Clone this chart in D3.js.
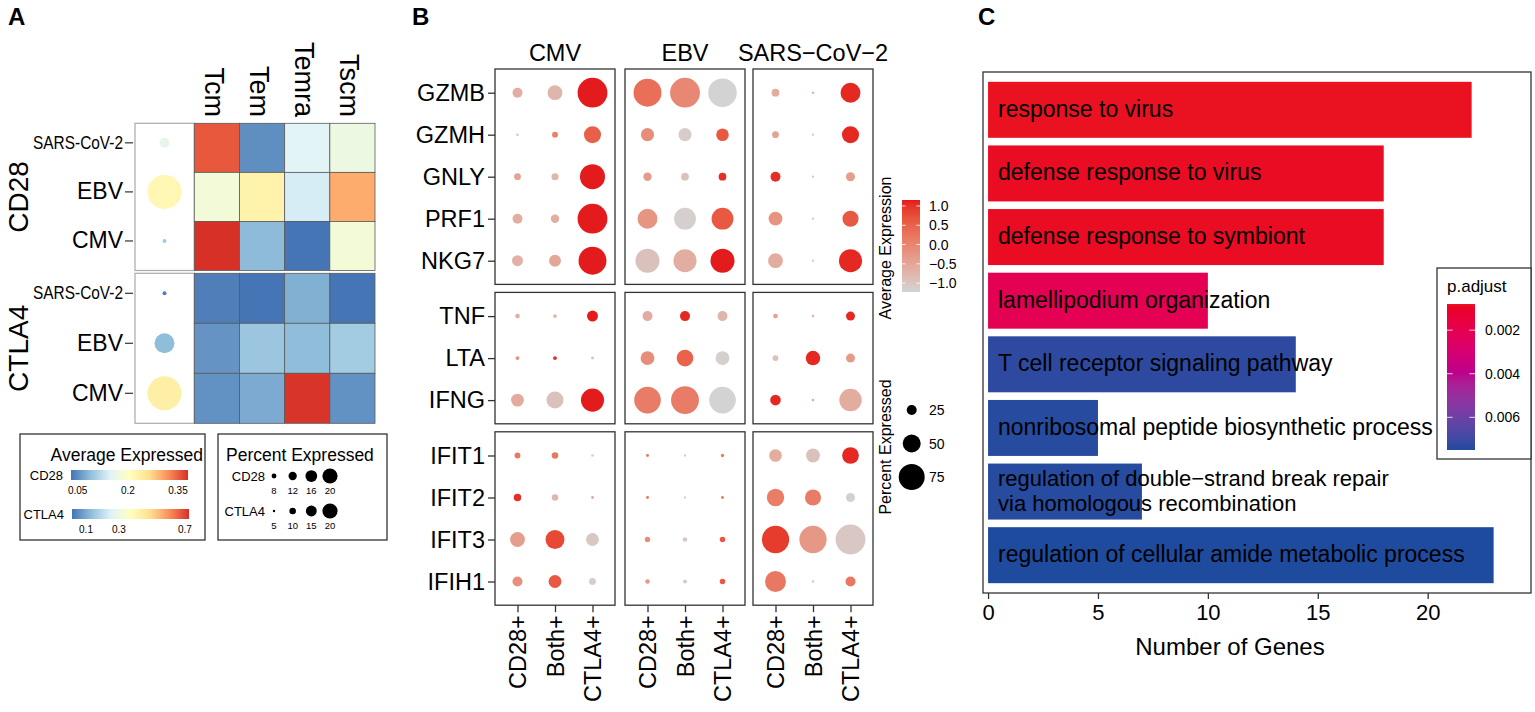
<!DOCTYPE html>
<html><head><meta charset="utf-8">
<script src="https://cdn.jsdelivr.net/npm/d3@7"></script>
<style>body{margin:0;background:#fff} svg{display:block} text{font-family:"Liberation Sans",Arial,Helvetica,sans-serif;fill:#000}</style>
</head><body><svg id="fig" width="1535" height="712"></svg>
<script>
// ---------------- DATA ----------------
// Panel A
const heatCols = ["Tcm","Tem","Temra","Tscm"];
const heatRows = ["SARS-CoV-2","EBV","CMV"];
const cd28Heat = [[0.355,0.05,0.15,0.17],[0.18,0.23,0.14,0.30],[0.38,0.085,0.03,0.18]];
const cd28DotPct = [8.5,20.5,5.5];
const cd28DotAvg = [0.16,0.22,0.10];
const ctla4Heat = [[0.03,0.015,0.11,0.015],[0.065,0.15,0.13,0.16],[0.06,0.10,0.72,0.06]];
const ctla4DotPct = [5.5,13.5,20.5];
const ctla4DotAvg = [0.03,0.13,0.43];
const cd28LegendTicks = [0.05,0.2,0.35];
const ctla4LegendTicks = [0.1,0.3,0.7];
const cd28PctLegend = [8,12,16,20];
const ctla4PctLegend = [5,10,15,20];

// Panel B
const moduleGenes = [["GZMB","GZMH","GNLY","PRF1","NKG7"],["TNF","LTA","IFNG"],["IFIT1","IFIT2","IFIT3","IFIH1"]];
const genes = moduleGenes.flat();
const cellGroups = ["CD28+","Both+","CTLA4+"];
const viruses = ["CMV","EBV","SARS\u2212CoV\u22122"];
const avgCMV = [[-0.63,-0.75,1.15],[-0.99,0.11,0.53],[-0.47,-0.75,1.15],[-0.63,-0.63,1.15],[-0.68,-0.51,1.15],
  [-0.63,-0.80,1.15],[-0.16,1.04,-1.04],[-0.56,-0.94,1.15],
  [0.20,0.20,-1.13],[1.04,-0.75,-0.59],[-0.35,0.80,-1.04],[-0.16,0.63,-1.11]];
const pctCMV = [[25,40,87],[2,12,47],[15,16,72],[25,20,87],[28,31,81],
  [8,6,28],[6,6,3],[34,47,66],
  [12,14,2],[17,14,3],[40,53,34],[25,34,15]];
const avgEBV = [[0.32,-0.04,-1.23],[-0.13,-1.13,0.63],[-0.32,-0.94,1.04],[-0.23,-1.16,0.63],[-0.94,-0.63,1.15],
  [-0.61,1.08,-0.75],[-0.13,0.49,-1.16],[0.15,0.15,-1.23],
  [0.20,-1.13,0.20],[0.20,-1.13,0.20],[-0.11,-1.04,0.63],[-0.28,-1.06,0.63]];
const pctEBV = [[81,87,83],[35,35,33],[20,18,18],[56,62,62],[69,66,69],
  [25,25,25],[37,46,37],[77,81,77],
  [3,1,4],[3,1,3],[11,8,11],[8,6,11]];
const avgSARS = [[-0.59,-0.75,1.08],[-0.47,-1.0,1.08],[1.04,-1.0,-0.35],[-0.2,-1.0,0.63],[-0.59,-1.0,1.08],
  [-0.44,-0.75,1.08],[-0.94,1.08,-0.32],[1.08,-0.63,-0.59],
  [-0.59,-0.94,1.08],[0.13,0.15,-1.18],[0.92,-0.28,-1.04],[0.20,-0.94,0.20]];
const pctSARS = [[18,2,56],[15,1,47],[25,1,22],[37,1,44],[40,1,66],
  [9,2,22],[12,39,22],[27,2,64],
  [33,37,46],[48,44,22],[79,79,87],[59,1,25]];
const avgLegendTicks = [1.0,0.5,0.0,-0.5,-1.0];
const pctLegendTicks = [25,50,75];

// Panel C
const goTerms = ["response to virus","defense response to virus","defense response to symbiont","lamellipodium organization",
  "T cell receptor signaling pathway","nonribosomal peptide biosynthetic process",
  "regulation of double\u2212strand break repair\nvia homologous recombination","regulation of cellular amide metabolic process"];
const geneCounts = [22,18,18,10,14,5,7,23];
const pAdjust = [0.00085,0.0009,0.0009,0.0021,0.0073,0.0074,0.0074,0.0075];
const countTicks = [0,5,10,15,20];
const pLegendTicks = [0.002,0.004,0.006];

// ---------------- DRAW ----------------
const svg = d3.select("#fig");
const defs = svg.append("defs");
function gradient(id, colorFn, vertical){
  const lg = defs.append("linearGradient").attr("id",id)
    .attr("x1",0).attr("y1",0).attr("x2",vertical?0:1).attr("y2",vertical?1:0);
  d3.range(0,1.0001,0.025).forEach(t=>lg.append("stop").attr("offset",t).attr("stop-color",colorFn(t)));
}

// panel letters
[["A",8],["B",412],["C",978]].forEach(([l,x])=>svg.append("text").attr("x",x).attr("y",25)
  .attr("font-size",24).attr("font-weight","bold").text(l));

// ===== Panel A =====
const rdylbu7 = ["#4575b4","#91bfdb","#e0f3f8","#ffffbf","#fee090","#fc8d59","#d73027"];
function heatScale(dom){
  return d3.scaleLinear().domain(d3.range(7).map(i=>dom[0]+i*(dom[1]-dom[0])/6)).range(rdylbu7).clamp(true);
}
const aX = d3.scaleBand().domain(heatCols).range([194.3,375]);
const aR = d3.scaleLinear().domain([5,21]).range([1.5,17.5]);
const aBlocks = [
  {gene:"CD28", heat:cd28Heat, pct:cd28DotPct, avg:cd28DotAvg, y0:123.3, y1:270.5, dom:[0.03,0.38]},
  {gene:"CTLA4", heat:ctla4Heat, pct:ctla4DotPct, avg:ctla4DotAvg, y0:273.3, y1:423.3, dom:[0.015,0.725]}
];
aBlocks.forEach(b=>{
  const y = d3.scaleBand().domain(heatRows).range([b.y0,b.y1]);
  const yl = d3.scaleBand().domain(heatRows).range([b.y0-5,b.y1-5]);
  const col = heatScale(b.dom);
  const g = svg.append("g");
  g.append("rect").attr("x",135).attr("y",b.y0).attr("width",194.3-135).attr("height",b.y1-b.y0)
    .attr("fill","#fff").attr("stroke","#aaa").attr("stroke-width",1.2);
  heatRows.forEach((r,i)=>heatCols.forEach((c,j)=>{
    g.append("rect").attr("x",aX(c)).attr("y",y(r)).attr("width",aX.bandwidth()).attr("height",y.bandwidth())
      .attr("fill",col(b.heat[i][j])).attr("stroke","#5a5a5a").attr("stroke-width",0.8);
  }));
  heatRows.forEach((r,i)=>g.append("circle").attr("cx",164.5).attr("cy",yl(r)+yl.bandwidth()/2)
    .attr("r",aR(b.pct[i])).attr("fill",col(b.avg[i])));
  const ax = g.append("g").attr("transform","translate(133,0)")
    .call(d3.axisLeft(yl).tickSize(8).tickPadding(2));
  ax.select(".domain").remove();
  ax.selectAll("line").attr("stroke","#333").attr("stroke-width",1.2);
  ax.selectAll("text").attr("font-size",d=>d==="SARS-CoV-2"?19:23).attr("fill","#000")
    .attr("font-family","Liberation Sans, Arial, sans-serif")
    .attr("textLength",d=>d==="SARS-CoV-2"?90:null).attr("lengthAdjust","spacingAndGlyphs");
  svg.append("text").attr("transform",`translate(28,${(b.y0+b.y1)/2}) rotate(-90)`)
    .attr("text-anchor","middle").attr("font-size",28).text(b.gene);
});
heatCols.forEach(c=>svg.append("text").attr("transform",`translate(${aX(c)+aX.bandwidth()/2-3},117) rotate(90)`)
  .attr("text-anchor","end").attr("dominant-baseline","central").attr("font-size",27).text(c));

// A legends
svg.append("rect").attr("x",20).attr("y",434).attr("width",185).attr("height",106).attr("fill","none").attr("stroke","#333").attr("stroke-width",1.3);
svg.append("text").attr("x",203).attr("y",461).attr("text-anchor","end").attr("font-size",17.5).text("Average Expressed");
[{gene:"CD28",dom:[0.03,0.38],rng:[71,188],y:470,ticks:cd28LegendTicks,lx:63},
 {gene:"CTLA4",dom:[0.015,0.725],rng:[72,189],y:509,ticks:ctla4LegendTicks,lx:64}].forEach((L,k)=>{
  const col = heatScale(L.dom);
  gradient("agr"+k, t=>col(L.dom[0]+t*(L.dom[1]-L.dom[0])), false);
  const s = d3.scaleLinear().domain(L.dom).range(L.rng);
  svg.append("rect").attr("x",L.rng[0]).attr("y",L.y).attr("width",L.rng[1]-L.rng[0]).attr("height",10).attr("fill",`url(#agr${k})`);
  svg.append("text").attr("x",L.lx).attr("y",L.y+10).attr("text-anchor","end").attr("font-size",13).text(L.gene);
  L.ticks.forEach(t=>svg.append("text").attr("x",s(t)).attr("y",L.y+24).attr("text-anchor","middle").attr("font-size",10).text(t));
});
svg.append("rect").attr("x",218).attr("y",434).attr("width",169).attr("height",106).attr("fill","none").attr("stroke","#333").attr("stroke-width",1.3);
svg.append("text").attr("x",226).attr("y",461).attr("font-size",17.5).text("Percent Expressed");
const legR = d3.scaleLinear().domain([4,20]).range([0.7,7.6]);
const legX = d3.scalePoint().domain([0,1,2,3]).range([274,330]);
[{gene:"CD28",vals:cd28PctLegend,y:476},{gene:"CTLA4",vals:ctla4PctLegend,y:511}].forEach(L=>{
  svg.append("text").attr("x",265).attr("y",L.y+5).attr("text-anchor","end").attr("font-size",13).text(L.gene);
  L.vals.forEach((v,i)=>{
    svg.append("circle").attr("cx",legX(i)).attr("cy",L.y).attr("r",Math.max(1.2,legR(v))).attr("fill","#000");
    svg.append("text").attr("x",legX(i)).attr("y",L.y+18).attr("text-anchor","middle").attr("font-size",9.5).text(v);
  });
});

// ===== Panel B =====
const bColor = d3.scaleLinear().domain([-1.23,1.155]).range(["#d3d3d3","#e41a1c"]).interpolate(d3.interpolateLab).clamp(true);
const bR = d3.scaleLinear().domain([0,100]).range([1,17]);
const bPanels = [{virus:viruses[0],x0:495,avg:avgCMV,pct:pctCMV},{virus:viruses[1],x0:625,avg:avgEBV,pct:pctEBV},{virus:viruses[2],x0:753,avg:avgSARS,pct:pctSARS}];
const pW = 120;
const bx = d3.scalePoint().domain(cellGroups).range([0,pW]).padding(0.6);
const stepY = 42, padY = 23.7, gapY = 8;
let ys = 69;
const rowScales = moduleGenes.map(m=>{
  const h = (m.length-1)*stepY + 2*padY;
  const s = d3.scalePoint().domain(m).range([ys, ys+h]).padding(padY/stepY);
  s.y0 = ys; s.y1 = ys+h; ys += h + gapY;
  return s;
});
bPanels.forEach((P,pi)=>{
  const g = svg.append("g").attr("transform",`translate(${P.x0},0)`);
  g.append("text").attr("x",pW/2).attr("y",61).attr("text-anchor","middle").attr("font-size",23.5).text(P.virus);
  rowScales.forEach((ys)=>{
    ys.domain().forEach(gene=>{
      const gi = genes.indexOf(gene);
      cellGroups.forEach((cg,ci)=>{
        g.append("circle").attr("cx",bx(cg)).attr("cy",ys(gene)).attr("r",bR(P.pct[gi][ci])).attr("fill",bColor(P.avg[gi][ci]));
      });
    });
    g.append("rect").attr("x",0).attr("y",ys.y0).attr("width",pW).attr("height",ys.y1-ys.y0)
      .attr("fill","none").attr("stroke","#333").attr("stroke-width",1.3);
    if(pi===0){
      const ax = g.append("g").call(d3.axisLeft(ys).tickSize(7).tickPadding(3));
      ax.select(".domain").remove();
      ax.selectAll("line").attr("stroke","#333").attr("stroke-width",1.3);
      ax.selectAll("text").attr("font-size",23.5).attr("fill","#000").attr("font-family","Liberation Sans, Arial, sans-serif");
    }
  });
  const last = rowScales[rowScales.length-1];
  const axb = g.append("g").attr("transform",`translate(0,${last.y1})`).call(d3.axisBottom(bx).tickSize(7));
  axb.select(".domain").remove();
  axb.selectAll("line").attr("stroke","#333").attr("stroke-width",1.3);
  axb.selectAll("text").attr("font-size",23.5).attr("fill","#000").attr("font-family","Liberation Sans, Arial, sans-serif")
    .attr("transform","rotate(-90)").attr("x",-10).attr("y",0).attr("dy","0.36em").attr("text-anchor","end");
});
// B legends
svg.append("text").attr("transform","translate(891,248) rotate(-90)").attr("text-anchor","middle").attr("font-size",16).text("Average Expression");
gradient("bgr", t=>bColor(1.155 - t*2.385), true);
const bLeg = d3.scaleLinear().domain([-1.23,1.155]).range([292,200]);
svg.append("rect").attr("x",902).attr("y",200).attr("width",18).attr("height",92).attr("fill","url(#bgr)");
avgLegendTicks.forEach(t=>{
  svg.append("line").attr("x1",902).attr("x2",905.6).attr("y1",bLeg(t)).attr("y2",bLeg(t)).attr("stroke","#fff").attr("stroke-width",0.8);
  svg.append("line").attr("x1",916.4).attr("x2",920).attr("y1",bLeg(t)).attr("y2",bLeg(t)).attr("stroke","#fff").attr("stroke-width",0.8);
  svg.append("text").attr("x",929).attr("y",bLeg(t)).attr("dominant-baseline","central").attr("font-size",14).text(d3.format(".1f")(t));
});
svg.append("text").attr("transform","translate(891,447) rotate(-90)").attr("text-anchor","middle").attr("font-size",16).text("Percent Expressed");
const pLegY = d3.scalePoint().domain(pctLegendTicks).range([410,477]);
pctLegendTicks.forEach(v=>{
  svg.append("circle").attr("cx",911.7).attr("cy",pLegY(v)).attr("r",bR(v)).attr("fill","#000");
  svg.append("text").attr("x",929).attr("y",pLegY(v)).attr("dominant-baseline","central").attr("font-size",14).text(v);
});

// ===== Panel C =====
const cx = d3.scaleLinear().domain([-0.23,24.7]).range([983,1531]);
const cy = d3.scaleBand().domain(goTerms).range([78,587]).paddingInner(0.12).paddingOuter(0.06);
const cColor = d3.scaleLinear().domain([0.0008,0.0075]).range(["#ea161e","#1f4b9e"]).interpolate(d3.interpolateHcl).clamp(true);
goTerms.forEach((t,i)=>{
  svg.append("rect").attr("x",cx(0)).attr("y",cy(t)).attr("width",cx(geneCounts[i])-cx(0)).attr("height",cy.bandwidth())
    .attr("fill",cColor(pAdjust[i]));
});
goTerms.forEach((t,i)=>{
  const lines = t.split("\n");
  const mid = cy(t)+cy.bandwidth()/2 - 1;
  const txt = svg.append("text").attr("x",998).attr("font-size",lines.length>1?22:23).attr("dominant-baseline","central");
  lines.forEach((ln,k)=>txt.append("tspan").attr("x",998).attr("y",mid + (k-(lines.length-1)/2)*25).text(ln));
});
svg.append("rect").attr("x",983).attr("y",72).attr("width",548).attr("height",521).attr("fill","none").attr("stroke","#333").attr("stroke-width",1.3);
const axc = svg.append("g").attr("transform","translate(0,593)").call(d3.axisBottom(cx).tickValues(countTicks).tickSize(6).tickPadding(5));
axc.select(".domain").remove();
axc.selectAll("line").attr("stroke","#333").attr("stroke-width",1.3);
axc.selectAll("text").attr("font-size",22).attr("fill","#000").attr("font-family","Liberation Sans, Arial, sans-serif");
svg.append("text").attr("x",1230).attr("y",655).attr("text-anchor","middle").attr("font-size",24).text("Number of Genes");
// C legend
svg.append("rect").attr("x",1437).attr("y",268).attr("width",94).attr("height",191).attr("fill","#fff").attr("stroke","#333").attr("stroke-width",1.3);
svg.append("text").attr("x",1447).attr("y",292).attr("font-size",17).text("p.adjust");
gradient("cgr", t=>cColor(0.0008 + t*0.0067), true);
const cLeg = d3.scaleLinear().domain([0.0008,0.0075]).range([304,450]);
svg.append("rect").attr("x",1447).attr("y",304).attr("width",28).attr("height",146).attr("fill","url(#cgr)");
pLegendTicks.forEach(t=>{
  svg.append("line").attr("x1",1447).attr("x2",1452.6).attr("y1",cLeg(t)).attr("y2",cLeg(t)).attr("stroke","#fff").attr("stroke-width",0.8);
  svg.append("line").attr("x1",1469.4).attr("x2",1475).attr("y1",cLeg(t)).attr("y2",cLeg(t)).attr("stroke","#fff").attr("stroke-width",0.8);
  svg.append("text").attr("x",1485).attr("y",cLeg(t)).attr("dominant-baseline","central").attr("font-size",14).text(d3.format(".3f")(t));
});
</script></body></html>
